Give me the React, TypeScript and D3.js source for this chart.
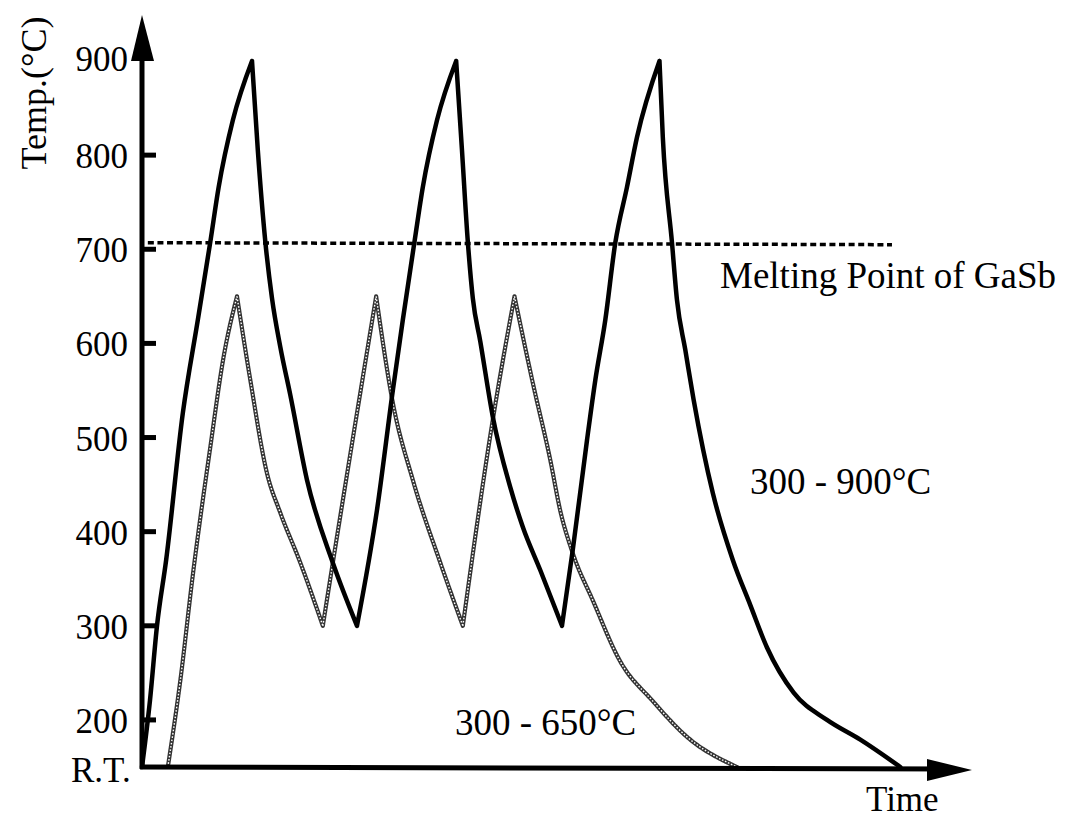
import React from "react";
import * as d3 from "d3";

// ---- data (time in arbitrary units, temperature in °C; R.T. plotted at 150) ----
const RT = 150;
const yTickValues = [200, 300, 400, 500, 600, 700, 800, 900];
const yTickLabels = ["200", "300", "400", "500", "600", "700", "800", "900"];
const meltingPoint = 707;
const meltingRange = [0.7, 90.0];

const series900Time = [
  0, 0.96, 1.8, 2.9, 4.9, 6.7, 8.2, 9.2, 10.9, 13.2,
  13.9, 14.8, 15.6, 16.6, 17.8, 19.8, 22.9, 25.8,
  28.2, 30.1, 31.3, 32.7, 33.7, 35.4, 37.7,
  38.4, 39.1, 39.7, 40.6, 42.1, 44.2, 45.7, 47.8, 50.4,
  51.7, 53.4, 54.4, 55.6, 56.8, 58.2, 59.4, 62.1,
  62.5, 63.6, 64.2, 65.2, 66.2, 68.5, 70.9, 73.0, 75.0, 78.2, 82.2, 86.2, 91.0,
];
const series900Temp = [
  150, 221, 300, 370, 526, 625, 708, 766, 837, 900,
  805, 708, 648, 596, 545, 455, 367, 300,
  423, 550, 625, 708, 766, 837, 900,
  805, 708, 648, 602, 522, 447, 405, 359, 300,
  381, 497, 561, 625, 707, 766, 819, 900,
  819, 707, 646, 593, 540, 441, 370, 322, 277, 229, 200, 179, 150,
];

const series650Time = [
  3.1, 4.6, 6.1, 8.2, 9.8, 11.4,
  13.0, 15.0, 16.6, 19.0, 21.7,
  22.9, 25.8, 28.1,
  30.1, 32.5, 35.8, 38.5,
  42.1, 44.7,
  46.9, 49.0, 50.2, 51.7, 54.1, 57.4, 61.3, 65.4, 71.4,
];
const series650Temp = [
  150, 242, 354, 490, 586, 650,
  561, 462, 420, 367, 300,
  367, 526, 650,
  537, 455, 367, 300,
  519, 650,
  558, 476, 422, 377, 327, 262, 220, 182, 150,
];

const W = 1066;
const H = 820;

// split a series at its turning points so each monotone piece can be smoothed
function splitMonotone(ts: number[], vs: number[]): [number, number][][] {
  const pts = ts.map((t, i) => [t, vs[i]] as [number, number]);
  const segs: [number, number][][] = [];
  let cur: [number, number][] = [pts[0]];
  for (let i = 1; i < pts.length; i++) {
    cur.push(pts[i]);
    if (i < pts.length - 1) {
      const a = pts[i][1] - pts[i - 1][1];
      const b = pts[i + 1][1] - pts[i][1];
      if (a * b < 0) {
        segs.push(cur);
        cur = [pts[i]];
      }
    }
  }
  segs.push(cur);
  return segs;
}

export default function App() {
  const x = d3.scaleLinear().domain([0, 100]).range([142, 975.3]);
  const y = d3.scaleLinear().domain([RT, 900]).range([767, 61]);

  const line = d3
    .line<[number, number]>()
    .x((d) => x(d[0]))
    .y((d) => y(d[1]))
    .curve(d3.curveMonotoneX);

  const pathOf = (ts: number[], vs: number[]) =>
    splitMonotone(ts, vs)
      .map((seg) => line(seg) || "")
      .join(" ");

  const d900 = pathOf(series900Time, series900Temp);
  const d650 = pathOf(series650Time, series650Temp);

  const x0 = x(0);
  const y0 = y(RT);
  const yTopTip = 15;
  const xTip = 972;
  const font = "'Liberation Serif', 'Times New Roman', serif";

  return (
    <svg
      width={W}
      height={H}
      style={{ position: "absolute", left: 0, top: 0, background: "#fff" }}
      fontFamily={font}
    >
      <rect x={0} y={0} width={W} height={H} fill="#fff" />

      {/* melting point dotted line */}
      <line
        x1={x(meltingRange[0])}
        x2={x(meltingRange[1])}
        y1={y(meltingPoint)}
        y2={y(meltingPoint) + 2}
        stroke="#000"
        strokeWidth={3.5}
        strokeDasharray="6 3.6"
      />
      <text x={720} y={288} fontSize={37} fill="#000">
        Melting Point of GaSb
      </text>

      {/* 300-650 series: chain-like gray line */}
      <path d={d650} fill="none" stroke="#333" strokeWidth={4.2} strokeLinejoin="round" strokeLinecap="round" strokeDasharray="2.4 0.9" />
      <path d={d650} fill="none" stroke="#fff" strokeWidth={1.4} strokeLinejoin="round" strokeDasharray="1.6 1.7" />

      {/* 300-900 series */}
      <path d={d900} fill="none" stroke="#000" strokeWidth={4.5} strokeLinejoin="round" strokeLinecap="round" />

      {/* axes */}
      <line x1={x0} x2={x0} y1={y0 + 2} y2={yTopTip + 20} stroke="#000" strokeWidth={5} />
      <polygon points={`${x0},${yTopTip} ${x0 - 11},${y(900)} ${x0 + 12},${y(900)}`} fill="#000" />
      <line x1={x0 - 2} x2={xTip - 20} y1={y0} y2={y0 + 2} stroke="#000" strokeWidth={5} />
      <polygon points={`${xTip},${y0 + 3} ${xTip - 45},${y0 - 8} ${xTip - 45},${y0 + 14}`} fill="#000" />

      {/* y ticks */}
      {yTickValues.map((v, i) => (
        <g key={v}>
          {v !== 900 && (
            <line x1={x0} x2={x0 + 14} y1={y(v)} y2={y(v)} stroke="#000" strokeWidth={5} />
          )}
          <text x={128} y={y(v) + (v === 900 ? 10 : 13)} fontSize={35} textAnchor="end" fill="#000">
            {yTickLabels[i]}
          </text>
        </g>
      ))}
      <text x={71} y={782} fontSize={35} fill="#000">
        R.T.
      </text>

      {/* axis titles */}
      <text
        transform={`translate(46, 93) rotate(-90)`}
        fontSize={36}
        textAnchor="middle"
        fill="#000"
      >
        Temp.(°C)
      </text>
      <text x={866} y={811} fontSize={35} fill="#000">
        Time
      </text>

      {/* series labels */}
      <text x={750} y={494} fontSize={37} fill="#000">
        300 - 900°C
      </text>
      <text x={455} y={735} fontSize={37} fill="#000">
        300 - 650°C
      </text>
    </svg>
  );
}
